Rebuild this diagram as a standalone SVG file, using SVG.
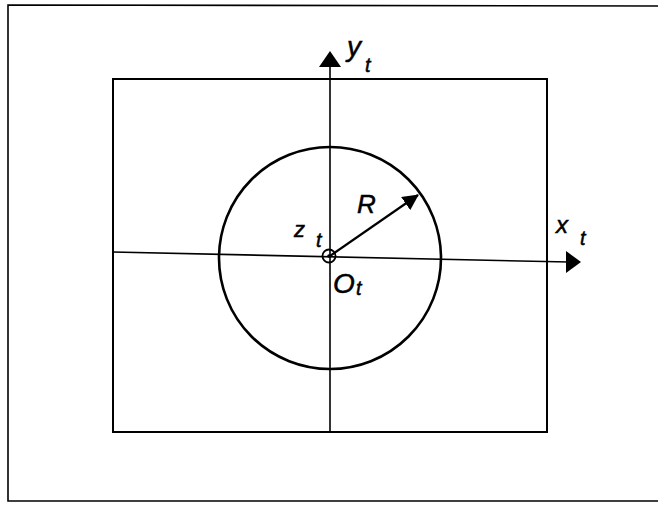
<svg xmlns="http://www.w3.org/2000/svg" width="658" height="508" viewBox="0 0 658 508">
<style>
.ln{fill:none;stroke:#000;stroke-linecap:square}
.lbl{font-family:"Liberation Sans",Arial,sans-serif;font-style:italic;fill:#000;stroke:#000;stroke-width:0.5}
</style>
<defs>
<marker id="ah" viewBox="0 0 16 16" refX="15" refY="8" markerWidth="16" markerHeight="16" markerUnits="userSpaceOnUse" orient="auto">
<path d="M0,0 L16,8 L0,16 Z" fill="#000"/>
</marker>
</defs>
<rect width="658" height="508" fill="#fff"/>
<g id="frame">
<path class="ln" d="M660,6 L8,5 L8,501 L660,501" stroke-width="1.6"/>
</g>
<g id="plate">
<rect class="ln" x="113" y="79" width="434" height="353" stroke-width="2"/>
</g>
<g id="circle">
<circle class="ln" cx="330" cy="258" r="111" stroke-width="2.6"/>
</g>
<g id="origin">
<circle class="ln" cx="329" cy="256" r="6.5" stroke-width="1.8"/>
<circle cx="329" cy="256" r="1.8" fill="#000"/>
</g>
<g id="connectors">
<line class="ln" x1="330" y1="432" x2="330" y2="64" stroke-width="1.6"/>
<path d="M330,51 L341,67 L319,67 Z" fill="#000"/>
<line class="ln" x1="113" y1="252" x2="568" y2="262" stroke-width="1.6"/>
<path d="M581,262 L566,251 L566,273 Z" fill="#000"/>
<line x1="330" y1="256" x2="418" y2="195" stroke="#000" stroke-width="2.2" marker-end="url(#ah)"/>
</g>
<g id="labels">
<text class="lbl" x="347" y="56" font-size="28">y</text>
<text class="lbl" x="365" y="72" font-size="20">t</text>
<text class="lbl" x="357" y="213" font-size="26">R</text>
<text class="lbl" x="294" y="237" font-size="22">z</text>
<text class="lbl" x="316" y="247" font-size="20">t</text>
<text class="lbl" x="333" y="293" font-size="28">O</text>
<text class="lbl" x="356" y="295" font-size="20">t</text>
<text class="lbl" x="556" y="233" font-size="24">x</text>
<text class="lbl" x="580" y="245" font-size="20">t</text>
</g>
</svg>
